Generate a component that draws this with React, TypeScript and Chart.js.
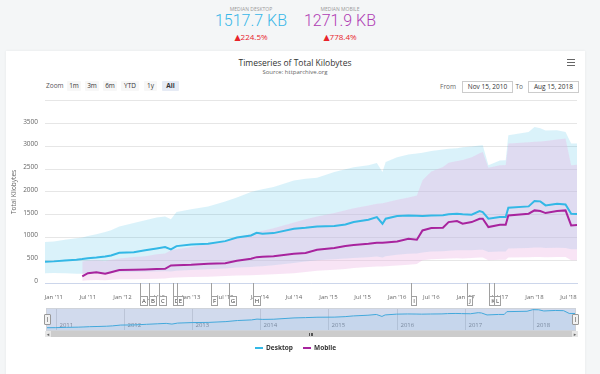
import React, { useEffect, useRef } from 'react';
import { Chart, registerables } from 'chart.js';

Chart.register(...registerables);

// ---------- DATA ----------
const dates = [
  '2010-11-15', '2011-01-01', '2011-03-01', '2011-05-01', '2011-06-01', '2011-07-01', '2011-08-15', '2011-10-01', '2011-11-01', '2011-12-15',
  '2012-03-01', '2012-05-01', '2012-07-01', '2012-08-15', '2012-09-15', '2012-10-15', '2013-01-01', '2013-04-01', '2013-07-01', '2013-09-01',
  '2013-11-15', '2013-12-15', '2014-01-15', '2014-03-15', '2014-07-01', '2014-09-01', '2014-11-01', '2015-02-01', '2015-04-01', '2015-05-15',
  '2015-08-01', '2015-09-15', '2015-10-15', '2015-11-01', '2016-01-01', '2016-03-01', '2016-04-15', '2016-05-15', '2016-07-01', '2016-09-01',
  '2016-10-01', '2016-11-15', '2016-12-15', '2017-02-01', '2017-03-15', '2017-04-01', '2017-05-01', '2017-07-01', '2017-08-01', '2017-08-15',
  '2017-12-01', '2018-01-01', '2018-02-01', '2018-03-01', '2018-05-01', '2018-06-15', '2018-07-15', '2018-08-15',
];

const desktopMedian = [
  468, 475, 495, 510, 525, 545, 560, 580, 605, 665,
  678, 720, 760, 788, 737, 810, 847, 862, 920, 1000,
  1045, 1104, 1082, 1096, 1192, 1214, 1243, 1250, 1287, 1340,
  1390, 1448, 1302, 1412, 1470, 1485, 1478, 1470, 1480, 1490,
  1510, 1522, 1510, 1500, 1580, 1558, 1412, 1448, 1448, 1654,
  1683, 1800, 1793, 1705, 1742, 1727, 1522, 1518,
];

const desktopHigh = [
  898, 910, 950, 985, 1000, 1030, 1070, 1120, 1160, 1243,
  1320, 1380, 1440, 1463, 1400, 1558, 1620, 1680, 1790, 1880,
  2000, 2030, 2060, 2108, 2250, 2290, 2314, 2440, 2500, 2540,
  2585, 2636, 2440, 2658, 2760, 2820, 2842, 2860, 2900, 2930,
  2950, 2960, 2980, 3000, 3020, 3025, 2585, 2690, 2695, 3245,
  3318, 3428, 3400, 3350, 3355, 3318, 3062, 3062,
];

const desktopLow = [
  216, 218, 215, 205, 205, 210, 215, 220, 225, 235,
  240, 245, 255, 260, 255, 270, 285, 300, 320, 340,
  350, 360, 370, 390, 440, 470, 500, 520, 540, 550,
  565, 580, 560, 590, 620, 640, 650, 670, 690, 700,
  710, 720, 720, 720, 730, 730, 680, 690, 690, 760,
  770, 780, 780, 770, 775, 770, 740, 740,
];

const mobileMedian = [
  null, null, null, null, 145, 215, 238, 202, 238, 285,
  290, 295, 305, 312, 385, 390, 400, 422, 436, 490,
  532, 568, 575, 590, 642, 660, 730, 770, 815, 835,
  862, 884, 884, 890, 913, 972, 950, 1155, 1206, 1214,
  1338, 1360, 1302, 1338, 1412, 1412, 1228, 1280, 1280, 1485,
  1522, 1595, 1580, 1536, 1580, 1595, 1265, 1272,
];

const mobileHigh = [
  null, null, null, null, 470, 490, 500, 480, 510, 540,
  570, 590, 630, 650, 720, 740, 790, 860, 920, 1000,
  1080, 1120, 1150, 1200, 1330, 1400, 1460, 1540, 1600, 1640,
  1700, 1740, 1750, 1770, 1830, 1880, 1920, 2255, 2450, 2550,
  2640, 2680, 2700, 2760, 2850, 2878, 2534, 2585, 2590, 3062,
  3090, 3100, 3110, 3120, 3150, 3172, 2585, 2600,
];

const mobileLow = [
  null, null, null, null, 50, 60, 65, 60, 70, 80,
  85, 90, 95, 100, 115, 120, 130, 140, 155, 165,
  170, 175, 180, 190, 215, 240, 270, 290, 310, 330,
  350, 360, 365, 370, 385, 400, 420, 500, 520, 530,
  540, 545, 540, 550, 560, 560, 500, 510, 510, 560,
  565, 570, 570, 565, 570, 570, 500, 500,
];

const xTickDates = [
  '2011-01-01', '2011-07-01', '2012-01-01', '2012-07-01', '2013-01-01', '2013-07-01', '2014-01-01', '2014-07-01',
  '2015-01-01', '2015-07-01', '2016-01-01', '2016-07-01', '2017-01-01', '2017-07-01', '2018-01-01', '2018-07-01',
];
const xTickLabels = [
  "Jan '11", "Jul '11", "Jan '12", "Jul '12", "Jan '13", "Jul '13", "Jan '14", "Jul '14",
  "Jan '15", "Jul '15", "Jan '16", "Jul '16", "Jan '17", "Jul '17", "Jan '18", "Jul '18",
];

const yMin = 0;
const yMax = 4000;
const yStep = 500;

const flagDates = [
  '2012-04-05', '2012-05-20', '2012-07-15', '2012-09-25', '2012-10-20', '2013-04-15',
  '2013-07-20', '2013-11-25', '2016-03-15', '2017-01-05', '2017-05-05', '2017-06-01',
];
const flagLabels = ['A', 'B', 'C', 'D', 'E', 'F', 'G', 'H', 'I', 'J', 'K', 'L'];

const navYears = ['2011', '2012', '2013', '2014', '2015', '2016', '2017', '2018'];

const zoomButtons = ['1m', '3m', '6m', 'YTD', '1y', 'All'];
const selectedZoom = 'All';

const medianDesktop = '1517.7 KB';
const medianMobile = '1271.9 KB';
const changeDesktop = '224.5%';
const changeMobile = '778.4%';
const fromDate = 'Nov 15, 2010';
const toDate = 'Aug 15, 2018';

// ---------- STYLE ----------
const FONT = '"Open Sans", "Noto Sans", "DejaVu Sans", sans-serif';
const DESKTOP = '#33b8e6';
const MOBILE = '#a8249e';

function toYear(s: string): number {
  const [y, m, d] = s.split('-').map(Number);
  const t = Date.UTC(y, m - 1, d);
  const a = Date.UTC(y, 0, 1);
  const b = Date.UTC(y + 1, 0, 1);
  return y + (t - a) / (b - a);
}

const X_MIN = toYear(dates[0]);
const X_MAX = toYear(dates[dates.length - 1]);

const pts = (arr: (number | null)[]) => dates.map((d, i) => ({ x: toYear(d), y: arr[i] }));

function Label(props: any) {
  const { x, y, align = 'left', size = 7, color = '#333', weight = 400, family = FONT, children, extra } = props;
  const h = Math.ceil(size * 1.5);
  const style: any = {
    position: 'absolute', top: y - h / 2, height: h, lineHeight: h + 'px', fontSize: size,
    color, fontWeight: weight, fontFamily: family, whiteSpace: 'nowrap',
  };
  if (align === 'center') { style.left = x - 150; style.width = 300; style.textAlign = 'center'; }
  else if (align === 'right') { style.right = 600 - x; style.textAlign = 'right'; }
  else style.left = x;
  return <div style={{ ...style, ...extra }}>{children}</div>;
}

const flagPlugin = {
  id: 'flags',
  afterDraw(chart: any) {
    const { ctx, chartArea } = chart;
    const xs = chart.scales.x;
    const bottom = chartArea.bottom;
    ctx.save();
    ctx.font = `6px ${FONT}`;
    flagDates.forEach((d, i) => {
      const x = Math.round(xs.getPixelForValue(toYear(d))) + 0.5;
      const label = flagLabels[i];
      const w = Math.max(5, Math.round(ctx.measureText(label).width + 3));
      const top = Math.round(bottom + 13) + 0.5;
      const h = 9;
      ctx.strokeStyle = '#a0a0a0';
      ctx.lineWidth = 1;
      ctx.beginPath();
      ctx.moveTo(x, bottom);
      ctx.lineTo(x, top);
      ctx.stroke();
      ctx.fillStyle = '#ffffff';
      ctx.fillRect(x, top, w, h);
      ctx.strokeRect(x, top, w, h);
      ctx.fillStyle = '#333';
      ctx.textAlign = 'center';
      ctx.textBaseline = 'middle';
      ctx.fillText(label, x + w / 2, top + h / 2 + 0.5);
    });
    ctx.restore();
  },
};

const navPlugin = {
  id: 'navgrid',
  beforeDatasetsDraw(chart: any) {
    const { ctx, chartArea } = chart;
    const xs = chart.scales.x;
    ctx.save();
    ctx.strokeStyle = '#e0e0e0';
    ctx.lineWidth = 1;
    ctx.font = `6px ${FONT}`;
    ctx.fillStyle = '#8a8a8a';
    ctx.textAlign = 'left';
    ctx.textBaseline = 'alphabetic';
    navYears.forEach((yr) => {
      const px = Math.round(xs.getPixelForValue(Number(yr))) + 0.5;
      ctx.beginPath();
      ctx.moveTo(px, chartArea.top);
      ctx.lineTo(px, chartArea.bottom);
      ctx.stroke();
      ctx.fillText(yr, px + 3, chartArea.bottom - 3);
    });
    ctx.restore();
  },
  afterDatasetsDraw(chart: any) {
    const { ctx, chartArea } = chart;
    ctx.save();
    ctx.fillStyle = 'rgba(102,133,194,0.3)';
    ctx.fillRect(chartArea.left, chartArea.top, chartArea.right - chartArea.left, chartArea.bottom - chartArea.top);
    ctx.restore();
  },
};

export default function App() {
  const mainRef = useRef<HTMLCanvasElement>(null);
  const navRef = useRef<HTMLCanvasElement>(null);

  useEffect(() => {
    const main = new Chart(mainRef.current as HTMLCanvasElement, {
      type: 'line',
      data: {
        datasets: [
          { label: 'dLow', data: pts(desktopLow), borderWidth: 0, borderColor: 'transparent', pointRadius: 0, fill: false, order: 2 },
          { label: 'dHigh', data: pts(desktopHigh), borderWidth: 0, borderColor: 'transparent', pointRadius: 0, fill: '-1', backgroundColor: 'rgba(51,184,230,0.18)', order: 2 },
          { label: 'mLow', data: pts(mobileLow), borderWidth: 0, borderColor: 'transparent', pointRadius: 0, fill: false, order: 1 },
          { label: 'mHigh', data: pts(mobileHigh), borderWidth: 0, borderColor: 'transparent', pointRadius: 0, fill: '-1', backgroundColor: 'rgba(235,178,226,0.35)', order: 1 },
          { label: 'Mobile', data: pts(mobileMedian), borderColor: MOBILE, borderWidth: 2, pointRadius: 0, fill: false, order: 0 },
          { label: 'Desktop', data: pts(desktopMedian), borderColor: DESKTOP, borderWidth: 2, pointRadius: 0, fill: false, order: 0 },
        ] as any,
      },
      options: {
        responsive: false,
        animation: false,
        events: [],
        layout: { padding: { left: 0, top: 10, right: 23, bottom: 0 } },
        plugins: { legend: { display: false }, tooltip: { enabled: false } },
        scales: {
          x: {
            type: 'linear',
            min: X_MIN,
            max: X_MAX,
            afterFit: (s: any) => { s.height = 29; },
            afterBuildTicks: (s: any) => { s.ticks = xTickDates.map((d) => ({ value: toYear(d) })); },
            grid: { display: false },
            border: { display: true, color: '#ccd6eb' },
            ticks: {
              autoSkip: false,
              maxRotation: 0,
              padding: 3,
              color: '#666',
              font: { family: FONT, size: 6 },
              callback: (_v: any, i: number) => xTickLabels[i],
            },
          },
          y: {
            min: yMin,
            max: yMax,
            afterFit: (s: any) => { s.width = 45; },
            grid: { color: '#e6e6e6', drawTicks: false },
            border: { display: false },
            ticks: {
              stepSize: yStep,
              padding: 7,
              labelOffset: -2,
              color: '#666',
              font: { family: FONT, size: 6.5 },
              callback: (v: any) => (v === yMax ? '' : String(v)),
            },
            title: {
              display: true,
              text: 'Total Kilobytes',
              color: '#666',
              font: { family: FONT, size: 6.5 },
              padding: { top: 10, bottom: 0 },
            },
          },
        },
      } as any,
      plugins: [flagPlugin],
    });

    const nav = new Chart(navRef.current as HTMLCanvasElement, {
      type: 'line',
      data: {
        datasets: [
          { label: 'nav', data: pts(desktopMedian), borderColor: DESKTOP, borderWidth: 1, pointRadius: 0, fill: 'start', backgroundColor: 'rgba(51,184,230,0.08)' },
        ] as any,
      },
      options: {
        responsive: false,
        animation: false,
        events: [],
        layout: { padding: 0 },
        plugins: { legend: { display: false }, tooltip: { enabled: false } },
        scales: {
          x: { type: 'linear', min: X_MIN, max: X_MAX, display: false },
          y: { min: 300, max: 1850, display: false },
        },
      } as any,
      plugins: [navPlugin],
    });

    return () => { main.destroy(); nav.destroy(); };
  }, []);

  const btnLayout: Record<string, [number, number]> = {
    '1m': [67, 14], '3m': [85, 14], '6m': [103, 14], 'YTD': [121, 18], '1y': [144, 13], 'All': [162, 17],
  };

  return (
    <div style={{ position: 'absolute', left: 0, top: 0, width: 600, height: 374, background: '#f4f6f7', overflow: 'hidden', fontFamily: FONT }}>
      <div style={{ position: 'absolute', left: 6, top: 51, width: 579, height: 330, background: '#fff', boxShadow: '0 0 3px rgba(0,0,0,0.06)' }} />

      {/* header stats */}
      <Label x={251} y={9} align="center" size={5} color="#9a9a9a">MEDIAN DESKTOP</Label>
      <Label x={251} y={21} align="center" size={16} color="#38b6e8" weight={300} family='Roboto, "Open Sans", sans-serif'>{medianDesktop}</Label>
      <Label x={251} y={37} align="center" size={8} color="#e8232b">{'▲' + changeDesktop}</Label>
      <Label x={340} y={9} align="center" size={5} color="#9a9a9a">MEDIAN MOBILE</Label>
      <Label x={340} y={21} align="center" size={16} color="#b03cb4" weight={300} family='Roboto, "Open Sans", sans-serif'>{medianMobile}</Label>
      <Label x={340} y={37} align="center" size={8} color="#e8232b">{'▲' + changeMobile}</Label>

      {/* title */}
      <Label x={295} y={62} align="center" size={8.5} color="#333">Timeseries of Total Kilobytes</Label>
      <Label x={295} y={72} align="center" size={6} color="#666">Source: httparchive.org</Label>
      {[0, 1, 2].map((i) => (
        <div key={i} style={{ position: 'absolute', left: 567, top: 59 + i * 3, width: 8, height: 1.3, background: '#666' }} />
      ))}

      {/* range selector */}
      <Label x={46} y={86} size={6.5} color="#555">Zoom</Label>
      {zoomButtons.map((b) => {
        const [l, w] = btnLayout[b];
        const sel = b === selectedZoom;
        return (
          <div key={b} style={{
            position: 'absolute', left: l, top: 81, width: w, height: 10, lineHeight: '10px', textAlign: 'center',
            fontSize: 6.5, color: '#333', fontWeight: sel ? 700 : 400, background: sel ? '#e6ebf5' : '#f7f7f7', borderRadius: 1,
          }}>{b}</div>
        );
      })}
      <Label x={456} y={86.5} align="right" size={6.5} color="#666">From</Label>
      <div style={{ position: 'absolute', left: 462, top: 81, width: 49, height: 10, lineHeight: '10px', border: '1px solid #ccc', fontSize: 6.5, color: '#333', textAlign: 'center' }}>{fromDate}</div>
      <Label x={523} y={86.5} align="right" size={6.5} color="#666">To</Label>
      <div style={{ position: 'absolute', left: 528, top: 81, width: 49, height: 10, lineHeight: '10px', border: '1px solid #ccc', fontSize: 6.5, color: '#333', textAlign: 'center' }}>{toDate}</div>

      {/* main chart */}
      <div style={{ position: 'absolute', left: 0, top: 90, width: 600, height: 222 }}>
        <canvas ref={mainRef} width={600} height={222} style={{ display: 'block' }} />
      </div>

      {/* navigator */}
      <div style={{ position: 'absolute', left: 47, top: 309, width: 528, height: 21, background: '#fff', outline: '1px solid #cfd3da' }}>
        <canvas ref={navRef} width={528} height={21} style={{ display: 'block' }} />
      </div>
      {[44, 572].map((l) => (
        <div key={l} style={{ position: 'absolute', left: l, top: 314, width: 5, height: 9, background: '#f2f2f2', border: '1px solid #999', borderRadius: 1 }}>
          <div style={{ position: 'absolute', left: 2, top: 2, width: 1, height: 5, background: '#999' }} />
        </div>
      ))}

      {/* scrollbar */}
      <div style={{ position: 'absolute', left: 45, top: 331, width: 533, height: 6, background: '#cccccc' }} />
      <div style={{ position: 'absolute', left: 45, top: 331, width: 6, height: 6, background: '#e6e6e6', fontSize: 5, lineHeight: '6px', textAlign: 'center', color: '#666' }}>◂</div>
      <div style={{ position: 'absolute', left: 572, top: 331, width: 6, height: 6, background: '#e6e6e6', fontSize: 5, lineHeight: '6px', textAlign: 'center', color: '#666' }}>▸</div>
      {[0, 1, 2].map((i) => (
        <div key={i} style={{ position: 'absolute', left: 309 + i * 1.6, top: 332.5, width: 0.8, height: 3, background: '#555' }} />
      ))}

      {/* legend */}
      <div style={{ position: 'absolute', left: 255, top: 347, width: 8, height: 1.5, background: DESKTOP }} />
      <Label x={266} y={348} size={6.5} color="#333" weight={700}>Desktop</Label>
      <div style={{ position: 'absolute', left: 303, top: 347, width: 8, height: 1.5, background: MOBILE }} />
      <Label x={314} y={348} size={6.5} color="#333" weight={700}>Mobile</Label>
    </div>
  );
}
